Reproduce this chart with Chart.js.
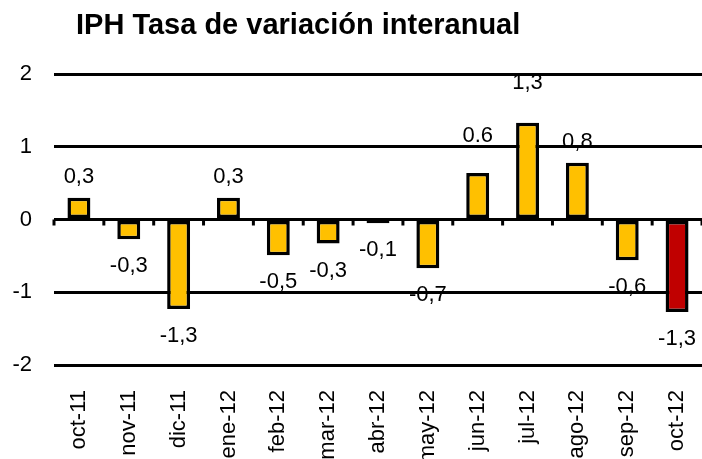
<!DOCTYPE html>
<html>
<head>
<meta charset="utf-8">
<script src="https://cdn.jsdelivr.net/npm/chart.js@4"></script>
<style>
  html, body { margin: 0; padding: 0; background: #fff; }
  #wrap { width: 702px; height: 459px; }
</style>
</head>
<body>
<div id="wrap"><canvas id="iph"></canvas></div>
<script>
    // ==================== DATA ====================
    const months = ['oct-11', 'nov-11', 'dic-11', 'ene-12', 'feb-12', 'mar-12', 'abr-12',
                    'may-12', 'jun-12', 'jul-12', 'ago-12', 'sep-12', 'oct-12'];
    const values = [0.3, -0.27, -1.23, 0.3, -0.49, -0.33, -0.05, -0.67, 0.64, 1.33, 0.78, -0.56, -1.27];
    const valueLabels = ['0,3', '-0,3', '-1,3', '0,3', '-0,5', '-0,3', '-0,1', '-0,7', '0.6', '1,3', '0,8', '-0,6', '-1,3'];
    const yTicks = [-2, -1, 0, 1, 2];
    const title = 'IPH Tasa de variación interanual';

    const FONT = '"Liberation Sans", Arial, sans-serif';

    // yellow bars, last month in dark red
    const barColors = months.map((m, i) => i === months.length - 1 ? '#C00000' : '#FFC000');

    // Title drawn by hand so it sits left like the original
    const titlePlugin = {
        id: 'titleText',
        afterDraw(chart) {
            const ctx = chart.ctx;
            ctx.save();
            ctx.font = 'bold 29px ' + FONT;
            ctx.fillStyle = '#000';
            ctx.textBaseline = 'alphabetic';
            ctx.textAlign = 'left';
            ctx.fillText(title, 76, 34);
            ctx.restore();
        }
    };

    // little tick marks hanging under the zero line between categories
    const zeroTicks = {
        id: 'zeroTicks',
        afterDatasetsDraw(chart) {
            const x = chart.scales.x, y = chart.scales.y, ctx = chart.ctx;
            const y0 = y.getPixelForValue(0);
            const step = x.getPixelForValue(1) - x.getPixelForValue(0);
            ctx.save();
            ctx.strokeStyle = '#000';
            ctx.lineWidth = 3;
            for (let i = 0; i <= months.length; i++) {
                const px = x.getPixelForValue(i) - step / 2;
                ctx.beginPath();
                ctx.moveTo(px, y0);
                ctx.lineTo(px, y0 + 6);
                ctx.stroke();
            }
            ctx.restore();
        }
    };

    // value labels above / below each bar
    const barLabels = {
        id: 'barLabels',
        afterDatasetsDraw(chart, args, opts) {
            const ctx = chart.ctx;
            const meta = chart.getDatasetMeta(0);
            ctx.save();
            ctx.font = '22px ' + FONT;
            ctx.fillStyle = '#000';
            ctx.textAlign = 'center';
            ctx.textBaseline = 'middle';
            meta.data.forEach((bar, i) => {
                const up = values[i] >= 0;
                const extra = opts.lift[i] || 0;
                const off = up ? -(opts.above + extra) : opts.below;
                ctx.fillText(valueLabels[i], bar.x, bar.y + off);
            });
            ctx.restore();
        }
    };

    new Chart(document.getElementById('iph'), {
        type: 'bar',
        data: {
            labels: months,
            datasets: [{
                data: values,
                backgroundColor: barColors,
                borderColor: '#000',
                borderWidth: 3.5,
                borderSkipped: false,
                categoryPercentage: 1,
                barPercentage: 0.46
            }]
        },
        options: {
            responsive: true,
            maintainAspectRatio: false,
            animation: false,
            layout: { padding: { top: 74, right: 0, left: 0, bottom: 0 } },
            plugins: {
                legend: { display: false },
                tooltip: { enabled: false },
                barLabels: { above: 21, below: 27, lift: { 8: 16, 9: 19 } }
            },
            scales: {
                x: {
                    afterFit(scale) {
                        scale.height = 94;
                        scale.paddingLeft = 0;
                        scale.paddingRight = 0;
                    },
                    grid: { display: false, drawTicks: false },
                    border: { display: false },
                    ticks: {
                        color: '#000',
                        font: { family: FONT, size: 22 },
                        minRotation: 90,
                        maxRotation: 90,
                        padding: 25
                    }
                },
                y: {
                    min: -2,
                    max: 2,
                    afterFit(scale) { scale.width = 54; },
                    afterBuildTicks(scale) { scale.ticks = yTicks.map(v => ({ value: v })); },
                    grid: { color: '#000', lineWidth: 3, drawTicks: false },
                    border: { display: false },
                    ticks: {
                        color: '#000',
                        font: { family: FONT, size: 22 },
                        padding: 22
                    }
                }
            }
        },
        plugins: [titlePlugin, zeroTicks, barLabels]
    });
</script>
</body>
</html>
